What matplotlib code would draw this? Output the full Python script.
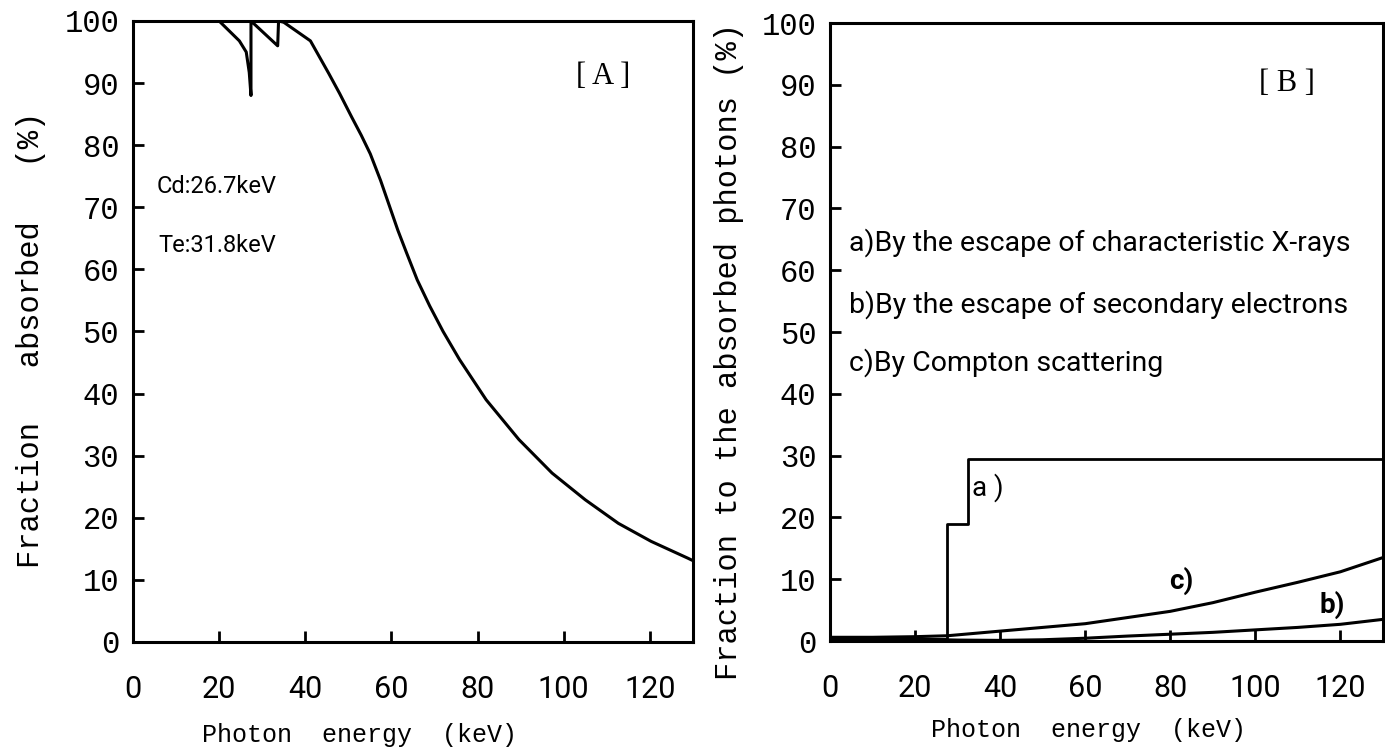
import matplotlib
matplotlib.use("Agg")
import matplotlib.pyplot as plt

# panel A: fraction of photons absorbed vs energy
energy_a = [0, 20, 24.7, 26.3, 27.0, 27.4, 27.4, 33.6, 33.8, 35, 41.2, 45.5,
            48, 50.8, 53, 55.1, 57.5, 59.7, 61.5, 63.5, 66, 68.9, 72, 75.8,
            82, 89.6, 97.3, 105, 112.7, 120.3, 128.8, 130]
absorbed = [100, 100, 96.8, 95, 91.7, 88, 100, 96, 100, 99.8, 96.8, 91.5,
            88.3, 84.5, 81.6, 78.6, 74.3, 69.9, 66.3, 62.7, 58.3, 54.1, 50,
            45.5, 39, 32.6, 27.2, 22.9, 19.1, 16.2, 13.5, 13.1]

# panel B: loss channels relative to absorbed photons
energy_xray = [0, 27.6, 27.6, 32.4, 32.4, 130]
frac_xray = [0.3, 0.3, 19, 19, 29.5, 29.5]

energy_elec = [0, 10, 20, 30, 40, 50, 60, 70, 80, 90, 100, 110, 120, 130]
frac_elec = [0.5, 0.4, 0.3, 0.15, 0.1, 0.2, 0.45, 0.8, 1.1, 1.4, 1.8, 2.2,
             2.7, 3.5]

energy_compton = [0, 10, 20, 27.6, 40, 50, 60, 70, 80, 90, 100, 110, 120, 130]
frac_compton = [0.6, 0.6, 0.7, 0.85, 1.6, 2.2, 2.8, 3.8, 4.8, 6.2, 7.9, 9.5,
                11.2, 13.5]

x_ticks = [0, 20, 40, 60, 80, 100, 120]
y_ticks = list(range(0, 101, 10))

MONO = ['Liberation Mono', 'DejaVu Sans Mono']
NARROW = ['Roboto', 'DejaVu Sans']
SERIF = ['Liberation Serif', 'DejaVu Serif']


def style_axes(ax):
    ax.set_xlim(0, 130)
    ax.set_ylim(0, 100)
    ax.set_xticks(x_ticks)
    ax.set_yticks(y_ticks)
    for sp in ax.spines.values():
        sp.set_linewidth(2.2)
    ax.tick_params(direction='in', length=8, width=2, top=False, right=False)
    ax.tick_params(axis='x', pad=24)
    ax.tick_params(axis='y', pad=10)
    for lab in ax.get_xticklabels():
        lab.set_fontfamily(NARROW)
        lab.set_fontsize(22)
    for lab in ax.get_yticklabels():
        lab.set_fontfamily(MONO)
        lab.set_fontsize(22)


fig = plt.figure(figsize=(13.85, 7.47), dpi=100)
ax_a = fig.add_axes([0.096, 0.1406, 0.4043, 0.8313])
ax_b = fig.add_axes([0.5993, 0.1419, 0.3992, 0.8273])

ax_a.plot(energy_a, absorbed, color='black', lw=2.2)
style_axes(ax_a)
ax_a.set_xlabel('Photon  energy  (keV)', family=MONO, fontsize=18)
ax_a.set_ylabel('Fraction   absorbed   (%)', family=MONO, fontsize=22)
ax_a.xaxis.set_label_coords(0.405, -0.13)
ax_a.yaxis.set_label_coords(-0.155, 0.486)
ax_a.text(109.2, 91.1, '[ A ]', family=SERIF, fontsize=22, ha='center', va='center')
ax_a.text(5.5, 73.4, 'Cd:26.7keV', family=NARROW, fontsize=17, va='center')
ax_a.text(6, 63.9, 'Te:31.8keV', family=NARROW, fontsize=17, va='center')

ax_b.plot(energy_xray, frac_xray, color='black', lw=2)
ax_b.plot(energy_elec, frac_elec, color='black', lw=2.2)
ax_b.plot(energy_compton, frac_compton, color='black', lw=2.2)
style_axes(ax_b)
ax_b.set_xlabel('Photon  energy  (keV)', family=MONO, fontsize=18)
ax_b.set_ylabel('Fraction to the absorbed photons (%)', family=MONO, fontsize=22)
ax_b.xaxis.set_label_coords(0.467, -0.125)
ax_b.yaxis.set_label_coords(-0.155, 0.468)
ax_b.text(107.5, 90.2, '[ B ]', family=SERIF, fontsize=22, ha='center', va='center')
ax_b.text(4.5, 64.5, 'a)By the escape of characteristic X-rays', family=NARROW,
          fontsize=20.5, va='center')
ax_b.text(4.5, 54.5, 'b)By the escape of secondary electrons', family=NARROW,
          fontsize=20.5, va='center')
ax_b.text(4.5, 45, 'c)By Compton scattering', family=NARROW,
          fontsize=20.5, va='center')
ax_b.text(33.4, 24.8, 'a )', family=NARROW, fontsize=20, va='center')
ax_b.text(82.6, 9.8, 'c)', family=NARROW, fontsize=20, weight='bold',
          ha='center', va='center')
ax_b.text(118, 5.8, 'b)', family=NARROW, fontsize=20, weight='bold',
          ha='center', va='center')

fig.savefig('out.png', dpi=100)
